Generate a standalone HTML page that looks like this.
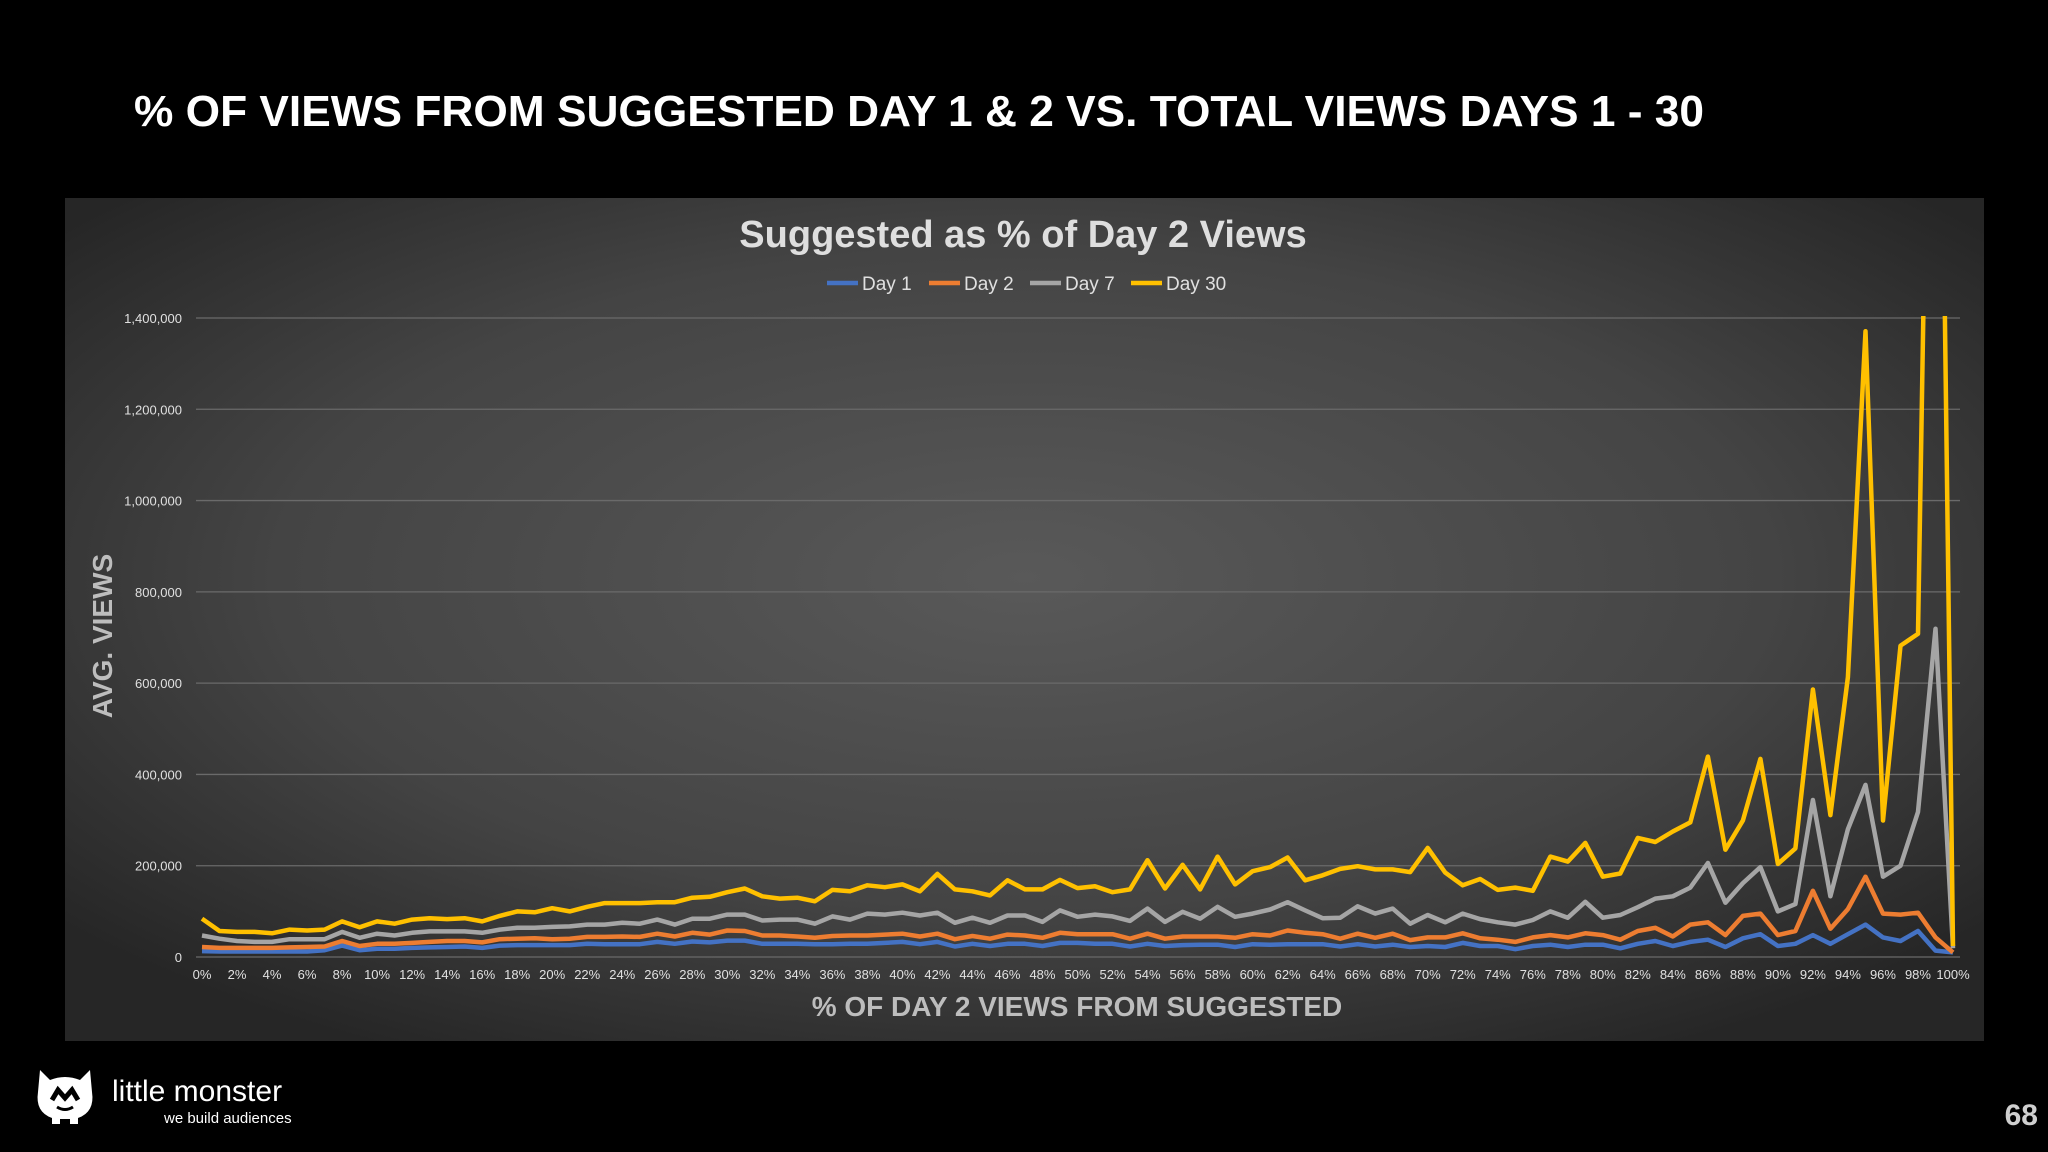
<!DOCTYPE html>
<html><head><meta charset="utf-8"><style>
html,body{margin:0;padding:0;background:#000;}
svg{display:block;font-family:"Liberation Sans",sans-serif;}
</style></head><body>
<svg id="root" width="2048" height="1152" viewBox="0 0 2048 1152">
<defs>
<radialGradient id="bg" cx="50%" cy="45%" r="65%">
<stop offset="0" stop-color="#595959"/><stop offset="0.6" stop-color="#444"/><stop offset="1" stop-color="#262626"/>
</radialGradient>
<clipPath id="plotclip"><rect x="190" y="316" width="1780" height="650"/></clipPath>
</defs>
<rect width="2048" height="1152" fill="#000"/>
<text x="134" y="126" fill="#fff" font-size="44" font-weight="bold" textLength="1570" lengthAdjust="spacingAndGlyphs">% OF VIEWS FROM SUGGESTED DAY 1 &amp; 2 VS. TOTAL VIEWS DAYS 1 - 30</text>
<rect x="65" y="198" width="1919" height="843" fill="url(#bg)"/>
<text x="1023" y="247" fill="#dedede" font-size="38" font-weight="bold" text-anchor="middle">Suggested as % of Day 2 Views</text>
<g id="legend"></g>
<g id="grid"></g>
<g id="yticks"></g>
<g id="xticks"></g>
<g id="series" clip-path="url(#plotclip)"></g>
<text transform="translate(112,636) rotate(-90)" fill="#bdbdbd" font-size="28" font-weight="bold" text-anchor="middle">AVG. VIEWS</text>
<text x="1077" y="1016" fill="#bdbdbd" font-size="28" font-weight="bold" text-anchor="middle">% OF DAY 2 VIEWS FROM SUGGESTED</text>
<g>
<path d="M40 1070 L50 1080 Q65 1074 80 1080 L90 1070 L92 1092 Q95 1112 78 1118 L78 1124 L70 1124 L70 1119 L60 1119 L60 1124 L52 1124 L52 1118 Q35 1112 38 1092 Z" fill="#fff"/>
<path d="M52 1100 L58 1090 L65 1098 L72 1090 L78 1100" stroke="#000" stroke-width="5" fill="none"/>
<path d="M57 1107 Q65 1112 73 1107" stroke="#000" stroke-width="3" fill="none"/>
<text x="112" y="1101" fill="#fff" font-size="30">little monster</text>
<text x="164" y="1123" fill="#fff" font-size="15">we build audiences</text>
</g>
<text x="2038" y="1125" fill="#cfcfcf" font-size="30" font-weight="bold" text-anchor="end">68</text>
</svg>
<script>
const categories = Array.from({length:101},(_,i)=>i+'%');
const day1 = [13,12,12,12,12,12,12,15,25,15,18,18,20,21,22,23,20,25,26,26,26,26,29,28,28,28,33,29,34,32,36,36,29,29,29,28,28,29,29,31,33,28,33,23,29,24,29,29,24,31,31,29,29,23,29,24,26,27,27,22,28,27,28,28,28,23,28,23,27,22,24,22,31,24,24,17,24,27,22,27,27,19,29,35,24,33,38,22,41,50,24,29,48,29,50,71,43,35,57,14,10];
const day2 = [22,20,20,20,20,21,22,23,35,24,29,29,31,33,35,35,32,39,40,41,39,40,44,44,45,44,51,45,53,49,58,57,47,47,45,42,46,47,47,49,51,45,51,39,46,40,49,47,42,53,50,50,50,40,51,40,45,45,45,42,50,47,58,53,50,40,51,42,51,37,43,43,52,41,38,33,43,48,43,52,48,38,57,64,45,71,76,48,90,95,48,57,145,62,105,176,95,93,97,43,10];
const day7 = [47,40,35,33,33,39,39,39,55,42,51,47,53,56,56,56,53,60,64,64,66,67,71,71,75,73,82,71,84,84,93,93,80,82,82,73,89,82,95,93,97,91,97,75,86,75,91,91,77,102,88,93,89,79,106,77,99,84,110,88,95,104,120,102,85,86,111,95,106,73,92,76,95,83,76,71,81,100,86,121,86,92,109,128,133,152,206,119,162,197,100,116,344,133,280,377,176,200,318,719,19];
const day30 = [84,57,55,55,52,60,58,60,78,65,78,73,82,85,83,85,78,90,100,98,107,100,110,118,118,118,120,120,130,132,142,150,133,128,130,122,147,144,157,153,159,144,182,148,144,135,168,148,148,169,151,155,142,148,212,150,202,148,220,159,188,197,218,168,179,193,199,192,192,186,239,185,157,171,147,152,145,220,209,250,176,183,261,252,275,295,439,235,299,434,204,238,586,311,613,1371,299,682,708,3000,24];
const seriesNames = ['Day 1','Day 2','Day 7','Day 30'];
const seriesData = [day1, day2, day7, day30];
const seriesColors = ['#4472c4','#ed7d31','#a5a5a5','#ffc000'];
const yTicks = [0,200,400,600,800,1000,1200,1400];
const yTickLabels = ['0','200,000','400,000','600,000','800,000','1,000,000','1,200,000','1,400,000'];

const NS='http://www.w3.org/2000/svg';
const X0=202, X1=1953, Y0=957, YT=318;
function xScale(i){return X0+(X1-X0)*i/100;}
function yScale(v){return Y0-(Y0-YT)*v/1400;}
function mk(tag,attrs,parent,txt){const e=document.createElementNS(NS,tag);for(const k in attrs)e.setAttribute(k,attrs[k]);if(txt!==undefined)e.textContent=txt;parent.appendChild(e);return e;}

const grid=document.getElementById('grid'), yt=document.getElementById('yticks'), xt=document.getElementById('xticks');
yTicks.forEach((v,i)=>{
  const l=mk('line',{x1:196,x2:1960,y1:yScale(v),y2:yScale(v),stroke:'#6a6a6a','stroke-width':1.3},grid);
  
  
  const t=mk('text',{x:182,y:yScale(v)+5,fill:'#e0e0e0','font-size':13,'text-anchor':'end'},yt,yTickLabels[i]);
  
  
});
categories.forEach((c,i)=>{
  if(i%2) return;
  const t=mk('text',{x:xScale(i),y:979,fill:'#e0e0e0','font-size':13,'text-anchor':'middle'},xt,c);
  
  
});
const sg=document.getElementById('series');
seriesData.forEach((d,s)=>{
  const pts=d.map((v,i)=>xScale(i).toFixed(1)+','+yScale(v).toFixed(1)).join(' ');
  const p=mk('polyline',{points:pts,fill:'none',stroke:seriesColors[s],'stroke-width':4.5,'stroke-linejoin':'round'},sg);
  
  
});
const lg=document.getElementById('legend');
const lx=[827,929,1030,1131];
seriesNames.forEach((n,i)=>{
  const g=mk('g',{},lg);
  
  
  mk('line',{x1:lx[i],x2:lx[i]+31,y1:283,y2:283,stroke:seriesColors[i],'stroke-width':4.5},g);
  mk('text',{x:lx[i]+35,y:290,fill:'#e0e0e0','font-size':19},g,n);
});
</script>
</body></html>
